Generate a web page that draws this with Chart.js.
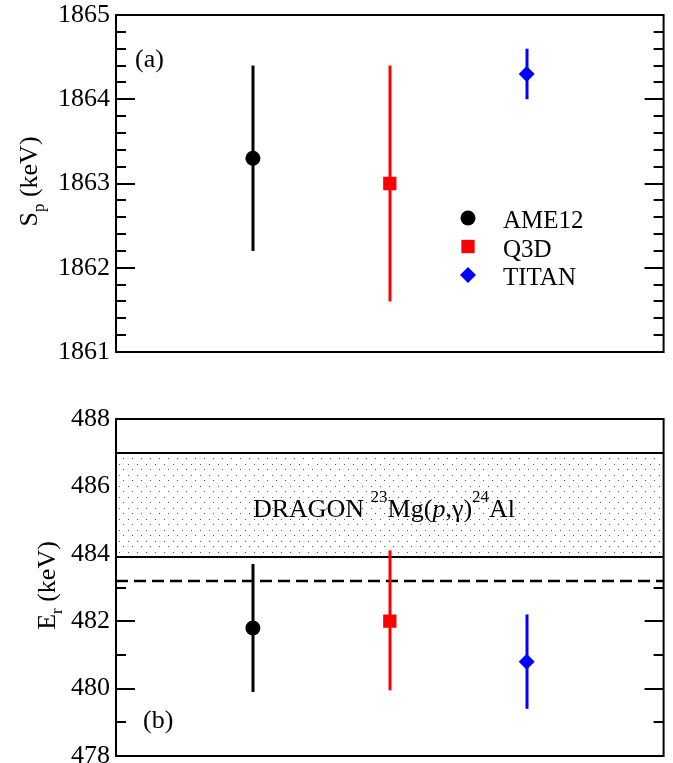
<!DOCTYPE html>
<html>
<head>
<meta charset="utf-8">
<script src="https://cdn.jsdelivr.net/npm/chart.js@4.4.1/dist/chart.umd.min.js"></script>
<style>
  body { margin: 0; background: #fff; overflow: hidden; }
  .panel { position: absolute; left: 0; width: 673px; }
</style>
</head>
<body>
<div class="panel" style="top:-10px;height:395px"><canvas id="chartA"></canvas></div>
<div class="panel" style="top:385px;height:398px"><canvas id="chartB"></canvas></div>
<script>
var methods = ["AME12", "Q3D", "TITAN"]
var methodX = [1, 2, 3]
var colors = ["#000000", "#ff0000", "#0000ff"]
var shapes = ["circle", "rect", "rectRot"]
var sizes = [7.5, 9.4, 8]

// panel (a): proton separation energy
var spValues = [1863.3, 1863.0, 1864.3]
var spLow = [1862.2, 1861.6, 1864.0]
var spHigh = [1864.4, 1864.4, 1864.6]
var spRange = [1861, 1865]

// panel (b): resonance energy
var erValues = [481.8, 482.0, 480.8]
var erLow = [479.9, 479.95, 479.4]
var erHigh = [483.7, 484.1, 482.2]
var erRange = [478, 488]
var dragonBand = [483.9, 487.0]
var dashedLine = 483.2

var serif = "'Liberation Serif', 'DejaVu Serif', serif"
Chart.defaults.font.family = serif

// dotted fill for the DRAGON band
var tile = document.createElement('canvas')
tile.width = 9; tile.height = 11
var tctx = tile.getContext('2d')
tctx.fillStyle = '#555'
tctx.fillRect(2, 2, 1, 1)
tctx.fillRect(6, 7, 1, 1)

function hline(ctx, x1, x2, y) {
    ctx.beginPath(); ctx.moveTo(x1, y); ctx.lineTo(x2, y); ctx.stroke()
}

// draws a run of [text, kind] pieces; kind: n normal, i italic, sup, sub
function richText(ctx, parts, x, y) {
    parts.forEach(function (p) {
        var size = 26, dy = 0, style = ''
        if (p[1] === 'sup') { size = 17; dy = -15 }
        if (p[1] === 'sub') { size = 17; dy = 7 }
        if (p[1] === 'i') style = 'italic '
        ctx.font = style + size + 'px ' + serif
        ctx.fillText(p[0], x, y + dy)
        x += ctx.measureText(p[0]).width
    })
}
function richWidth(ctx, parts) {
    var w = 0
    parts.forEach(function (p) {
        var size = (p[1] === 'sup' || p[1] === 'sub') ? 17 : 26
        ctx.font = (p[1] === 'i' ? 'italic ' : '') + size + 'px ' + serif
        w += ctx.measureText(p[0]).width
    })
    return w
}

var decor = {
    id: 'decor',
    beforeDatasetsDraw: function (chart, args, o) {
        var ctx = chart.ctx, a = chart.chartArea, xs = chart.scales.x, ys = chart.scales.y
        ctx.save()
        ctx.strokeStyle = '#000'
        ctx.lineWidth = 2
        // inward ticks on both sides
        var n = Math.round((o.max - o.min) / o.minor)
        for (var k = 0; k <= n; k++) {
            var v = o.min + k * o.minor
            var py = Math.round(ys.getPixelForValue(v))
            var len = (k % o.perMajor === 0) ? 19 : 10
            hline(ctx, a.left, a.left + len, py)
            hline(ctx, a.right - len, a.right, py)
        }
        if (o.band) {
            var top = ys.getPixelForValue(o.band[1]), bot = ys.getPixelForValue(o.band[0])
            ctx.fillStyle = '#fff'
            ctx.fillRect(a.left, top, a.width, bot - top)
            ctx.fillStyle = ctx.createPattern(tile, 'repeat')
            ctx.fillRect(a.left, top, a.width, bot - top)
            hline(ctx, a.left, a.right, Math.round(top))
            hline(ctx, a.left, a.right, Math.round(bot))
            ctx.fillStyle = '#000'
            ctx.textBaseline = 'alphabetic'
            ctx.textAlign = 'left'
            richText(ctx, [["DRAGON ", 'n'], ["23", 'sup'], ["Mg(", 'n'], ["p", 'i'], [",\u03b3)", 'n'], ["24", 'sup'], ["Al", 'n']],
                xs.getPixelForValue(1.0), ys.getPixelForValue(485.1))
        }
        if (o.dash != null) {
            ctx.setLineDash([12, 6])
            ctx.lineWidth = 2.5
            hline(ctx, a.left, a.right, Math.round(ys.getPixelForValue(o.dash)))
            ctx.setLineDash([])
        }
        // error bars
        ctx.lineWidth = 3
        for (var i = 0; i < methods.length; i++) {
            var px = Math.round(xs.getPixelForValue(methodX[i]))
            ctx.strokeStyle = colors[i]
            ctx.beginPath()
            ctx.moveTo(px, ys.getPixelForValue(o.low[i]))
            ctx.lineTo(px, ys.getPixelForValue(o.high[i]))
            ctx.stroke()
        }
        ctx.restore()
    },
    afterDatasetsDraw: function (chart, args, o) {
        var ctx = chart.ctx, a = chart.chartArea
        ctx.save()
        ctx.strokeStyle = '#000'
        ctx.lineWidth = 2
        ctx.strokeRect(a.left, a.top, a.width, a.height)
        ctx.fillStyle = '#000'
        ctx.textAlign = 'left'
        ctx.textBaseline = 'alphabetic'
        ctx.font = '26px ' + serif
        ctx.fillText(o.tag, a.left + o.tagPos[0], a.top + o.tagPos[1])
        // y axis title, rotated
        var w = richWidth(ctx, o.title)
        ctx.translate(o.titleX, (a.top + a.bottom) / 2 - 2)
        ctx.rotate(-Math.PI / 2)
        richText(ctx, o.title, -w / 2, 0)
        ctx.restore()
        if (o.legend) {
            ctx.save()
            chart.data.datasets.forEach(function (ds, i) {
                var base = a.top + 213 + i * 28.5
                ctx.fillStyle = colors[i]
                Chart.helpers.drawPoint(ctx, { pointStyle: shapes[i], radius: sizes[i], rotation: 0, borderWidth: 0 }, a.left + 352, base - 10)
                ctx.fillStyle = '#000'
                ctx.font = '25px ' + serif
                ctx.fillText(ds.label, a.left + 387, base)
            })
            ctx.restore()
        }
    }
}

function makeChart(id, values, range, step, minor, perMajor, extra, pad) {
    return new Chart(document.getElementById(id), {
        type: 'scatter',
        data: {
            datasets: methods.map(function (m, i) {
                return {
                    label: m,
                    data: [{ x: methodX[i], y: values[i] }],
                    pointStyle: shapes[i],
                    pointRadius: sizes[i],
                    pointHoverRadius: sizes[i],
                    backgroundColor: colors[i],
                    borderWidth: 0
                }
            })
        },
        options: {
            responsive: true,
            maintainAspectRatio: false,
            animation: false,
            layout: { padding: pad },
            plugins: {
                legend: { display: false },
                tooltip: { enabled: false },
                decor: Object.assign({ min: range[0], max: range[1], minor: minor, perMajor: perMajor }, extra)
            },
            scales: {
                x: { type: 'linear', min: 0, max: 4, display: false },
                y: {
                    min: range[0], max: range[1],
                    ticks: {
                        stepSize: step, color: '#000', padding: 6,
                        font: { family: serif, size: 26 },
                        callback: function (v) { return String(v) }
                    },
                    grid: { display: false, drawTicks: false },
                    border: { display: false },
                    afterFit: function (s) { s.width = 116 }
                }
            }
        },
        plugins: [decor]
    })
}

makeChart('chartA', spValues, spRange, 1, 0.2, 5, {
    low: spLow, high: spHigh, tag: '(a)', tagPos: [19, 52], legend: true,
    title: [["S", 'n'], ["p", 'sub'], [" (keV)", 'n']], titleX: 37
}, { top: 25, bottom: 33, left: 0, right: 8 })

makeChart('chartB', erValues, erRange, 2, 1, 2, {
    low: erLow, high: erHigh, band: dragonBand, dash: dashedLine, tag: '(b)', tagPos: [27, 309],
    title: [["E", 'n'], ["r", 'sub'], [" (keV)", 'n']], titleX: 55
}, { top: 34, bottom: 27, left: 0, right: 8 })
</script>
</body>
</html>
